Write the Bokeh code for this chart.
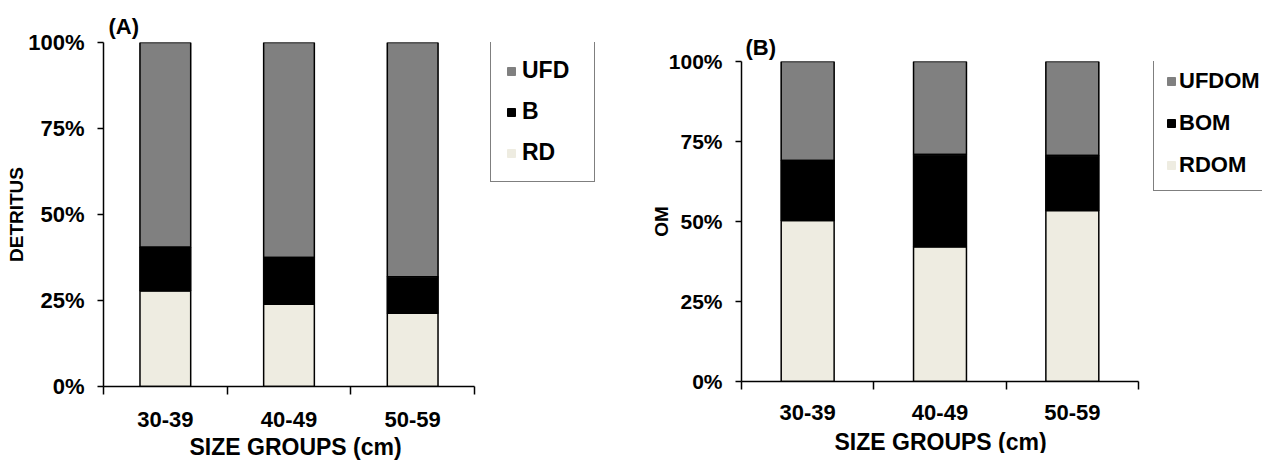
from bokeh.plotting import figure
from bokeh.models import (Range1d, FixedTicker, PrintfTickFormatter, Legend,
                          LegendItem, ColumnDataSource, Title)
from bokeh.layouts import row
from bokeh.embed import file_html
from bokeh.resources import INLINE

# ---------------- data ----------------
size_groups = ["30-39", "40-49", "50-59"]

# Panel A: DETRITUS composition (%)
rd = [27.8, 23.9, 21.3]
b = [12.7, 13.6, 10.6]
ufd = [59.5, 62.5, 68.1]

# Panel B: OM composition (%)
rdom = [50.3, 42.1, 53.4]
bom = [18.8, 28.8, 17.2]
ufdom = [30.9, 29.1, 29.4]

y_ticks = [0, 25, 50, 75, 100]
x_title = "SIZE GROUPS (cm)"

# ---------------- style ----------------
FONT = "Liberation Sans"
C_LIGHT = "#EEECE1"
C_BLACK = "#000000"
C_GRAY = "#808080"
X_TITLE_PX = 23
X_TITLE_EM = 9.224   # approx. advance width of the x title in em (bold sans)


def make_panel(title, series, names, ylabel, axis_px, extra_px, fh, margin,
               tick_font, ylab_standoff, x_label_standoff, x_title_standoff,
               x_title_shift, title_standoff, title_offset, bar_width,
               legend_loc, legend_padding, legend_spacing, legend_label_width,
               legend_standoff, legend_font):
    n = len(size_groups)
    xs = [i + 0.5 for i in range(n)]
    fw = axis_px + extra_px
    # the frame is wider than the category axis so that the legend fits in it
    p = figure(frame_width=fw, frame_height=fh, output_backend="svg",
               toolbar_location=None, x_range=Range1d(0, n * fw / axis_px),
               y_range=Range1d(0, 100), title=title, min_border=0,
               margin=margin)
    p.outline_line_color = None
    p.xgrid.visible = False
    p.ygrid.visible = False
    p.background_fill_color = "white"
    p.border_fill_color = "white"

    p.title.text_font = FONT
    p.title.text_font_size = "22px"
    p.title.text_font_style = "bold"
    p.title.text_color = "black"
    p.title.align = "left"
    p.title.offset = title_offset
    p.title.standoff = title_standoff

    data = {"x": xs}
    keys = ["s0", "s1", "s2"]
    for k, s in zip(keys, series):
        data[k] = s
    src = ColumnDataSource(data)
    fills = [C_LIGHT, C_BLACK, C_GRAY]
    # filled segments (also used for the legend swatches)
    fill_rs = p.vbar_stack(keys, x="x", width=bar_width, source=src,
                           fill_color=fills, line_color=fills, line_width=1)
    # black outlines of each segment
    p.vbar_stack(keys, x="x", width=bar_width, source=src, fill_color=None,
                 line_color="black", line_width=1.5)

    xa = p.xaxis[0]
    xa.bounds = (0, n)
    xa.ticker = FixedTicker(ticks=xs, minor_ticks=list(range(n + 1)))
    xa.major_label_overrides = {x: lab for x, lab in zip(xs, size_groups)}
    xa.major_tick_line_color = None
    xa.major_tick_out = 0
    xa.major_tick_in = 0
    xa.minor_tick_out = 8
    xa.minor_tick_in = 0
    xa.minor_tick_line_color = "black"
    xa.minor_tick_line_width = 1.5
    xa.axis_line_color = "black"
    xa.axis_line_width = 1.5
    xa.major_label_text_font = FONT
    xa.major_label_text_font_style = "bold"
    xa.major_label_text_font_size = "22px"
    xa.major_label_text_color = "black"
    xa.major_label_standoff = x_label_standoff

    # x-axis title, centred under the category axis (not the wider frame)
    xt = Title(text=x_title, align="left",
               offset=round(axis_px / 2 - X_TITLE_EM * X_TITLE_PX / 2)
               + x_title_shift,
               standoff=x_title_standoff, text_font=FONT,
               text_font_size=f"{X_TITLE_PX}px", text_font_style="bold",
               text_color="black")
    p.add_layout(xt, "below")

    ya = p.yaxis[0]
    ya.ticker = FixedTicker(ticks=y_ticks, minor_ticks=[])
    ya.formatter = PrintfTickFormatter(format="%d%%")
    ya.major_tick_out = 6
    ya.major_tick_in = 0
    ya.major_tick_line_color = "black"
    ya.major_tick_line_width = 1.5
    ya.axis_line_color = "black"
    ya.axis_line_width = 1.5
    ya.major_label_text_font = FONT
    ya.major_label_text_font_style = "bold"
    ya.major_label_text_font_size = tick_font
    ya.major_label_text_color = "black"
    ya.major_label_standoff = 13
    ya.axis_label = ylabel
    ya.axis_label_text_font = FONT
    ya.axis_label_text_font_style = "bold"
    ya.axis_label_text_font_size = "19px"
    ya.axis_label_text_color = "black"
    ya.axis_label_standoff = ylab_standoff

    items = [LegendItem(label=name, renderers=[r])
             for name, r in reversed(list(zip(names, fill_rs)))]
    leg = Legend(items=items, location=legend_loc)
    leg.margin = 0
    leg.padding = legend_padding
    leg.spacing = legend_spacing
    leg.glyph_width = 10
    leg.glyph_height = 10
    leg.label_standoff = legend_standoff
    leg.label_width = legend_label_width
    leg.label_height = 24
    leg.label_text_font = FONT
    leg.label_text_font_style = "bold"
    leg.label_text_font_size = legend_font
    leg.label_text_color = "black"
    leg.border_line_color = "black"
    leg.border_line_width = 1.5
    leg.background_fill_color = "white"
    leg.background_fill_alpha = 1.0
    p.add_layout(leg)
    return p


pA = make_panel("(A)", [rd, b, ufd], ["RD", "B", "UFD"], "DETRITUS",
                axis_px=371, extra_px=126, fh=344, margin=(7, 0, 0, 3),
                tick_font="22px", ylab_standoff=-2, x_label_standoff=17,
                x_title_standoff=5, x_title_shift=7, title_standoff=8,
                title_offset=5, bar_width=0.41, legend_loc=(387, 204),
                legend_padding=15, legend_spacing=14, legend_label_width=57,
                legend_standoff=6, legend_font="23px")

pB = make_panel("(B)", [rdom, bom, ufdom], ["RDOM", "BOM", "UFDOM"], "OM",
                axis_px=397, extra_px=124, fh=320, margin=(26, 0, 0, 47),
                tick_font="21px", ylab_standoff=-6, x_label_standoff=15,
                x_title_standoff=8, x_title_shift=1, title_standoff=3,
                title_offset=4, bar_width=0.4, legend_loc=(412, 190),
                legend_padding=12, legend_spacing=16, legend_label_width=60,
                legend_standoff=3, legend_font="22px")

layout = row(pA, pB)
open("out.html", "w").write(file_html(layout, INLINE))
